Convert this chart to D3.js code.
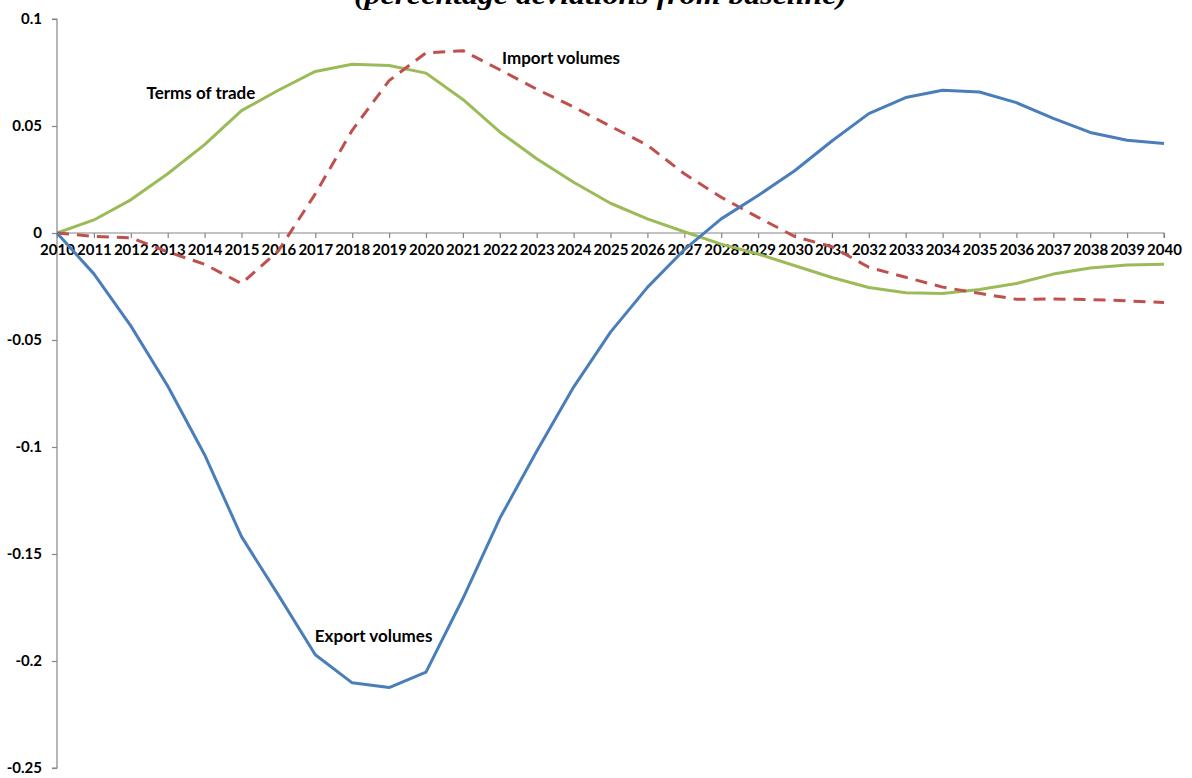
<!DOCTYPE html>
<html>
<head>
<meta charset="utf-8">
<script src="https://cdn.jsdelivr.net/npm/d3@7"></script>
<style>
  html, body { margin: 0; padding: 0; background: #ffffff; }
  svg { display: block; }
</style>
</head>
<body>
<svg id="chart" width="1192" height="778"></svg>
<script>
const years = d3.range(2010, 2041);
const yearLabels = years.map(String);

const exportVolumes = [0, -0.0191, -0.0434, -0.0715, -0.1036, -0.1419, -0.1692, -0.1971, -0.2102, -0.2124, -0.2052,
  -0.1708, -0.1333, -0.1020, -0.0720, -0.0463, -0.0254, -0.0078, 0.0066, 0.0175, 0.0292,
  0.0430, 0.0558, 0.0633, 0.0667, 0.0659, 0.0609, 0.0536, 0.0470, 0.0433, 0.0418];

const importVolumes = [0, -0.0016, -0.0022, -0.0088, -0.0146, -0.0236, -0.0083, 0.0183, 0.0480, 0.0712, 0.0842,
  0.0852, 0.0763, 0.0672, 0.0589, 0.0499, 0.0410, 0.0277, 0.0167, 0.0073, -0.0017,
  -0.0064, -0.0160, -0.0207, -0.0253, -0.0282, -0.0310, -0.0308, -0.0311, -0.0317, -0.0325];

const termsOfTrade = [0, 0.0061, 0.0155, 0.0277, 0.0413, 0.0572, 0.0667, 0.0755, 0.0789, 0.0783, 0.0747,
  0.0624, 0.0472, 0.0347, 0.0237, 0.0139, 0.0066, 0.0006, -0.0052, -0.0098, -0.0153,
  -0.0208, -0.0255, -0.0279, -0.0283, -0.0264, -0.0236, -0.0192, -0.0164, -0.0149, -0.0146];

const yTicks = [0.1, 0.05, 0, -0.05, -0.1, -0.15, -0.2, -0.25];
const yTickLabels = ["0.1", "0.05", "0", "-0.05", "-0.1", "-0.15", "-0.2", "-0.25"];

const titleText = "(percentage deviations from baseline)";
const seriesLabels = [
  { name: "Terms of trade", year: 2013.9, value: 0.0656 },
  { name: "Import volumes", year: 2023.66, value: 0.0819 },
  { name: "Export volumes", year: 2018.58, value: -0.1882 }
];

const svg = d3.select("#chart");
const axisColor = "#868686";
const fontFam = "Lato, 'Open Sans', sans-serif";

const x = d3.scaleLinear().domain([2010, 2040]).range([57, 1164]);
const y = d3.scaleLinear().domain([-0.25, 0.1]).range([768, 19]);

// Title (cut at the top, as in the original)
svg.append("text")
  .attr("x", 600.5).attr("y", 4)
  .attr("text-anchor", "middle")
  .attr("font-family", "'Liberation Serif', 'DejaVu Serif', serif")
  .attr("font-weight", "bold").attr("font-style", "italic")
  .attr("font-size", 27)
  .attr("textLength", 493).attr("lengthAdjust", "spacingAndGlyphs")
  .attr("fill", "#000")
  .text(titleText);

// Y axis
const yAxis = d3.axisLeft(y)
  .tickValues(yTicks)
  .tickFormat((d, i) => yTickLabels[i])
  .tickSize(5).tickPadding(10);
const gy = svg.append("g").attr("transform", "translate(57,0)").call(yAxis);
gy.select(".domain").attr("stroke", axisColor).attr("stroke-width", 1.2).attr("d", `M-5,${y(0.1)}H0V${y(-0.25)}H-5`);
gy.selectAll(".tick line").attr("stroke", axisColor).attr("stroke-width", 1.2);
gy.selectAll(".tick text")
  .attr("font-family", fontFam).attr("font-weight", "bold")
  .attr("font-size", 15).attr("fill", "#000");

// X axis at zero
const xAxis = d3.axisBottom(x)
  .tickValues(years)
  .tickFormat((d, i) => yearLabels[i])
  .tickSize(5).tickPadding(6);
const gx = svg.append("g").attr("transform", `translate(0,${y(0)})`).call(xAxis);
gx.select(".domain").attr("stroke", axisColor).attr("stroke-width", 1.2).attr("d", `M${x(2010)},0H${x(2040)}V5`);
gx.selectAll(".tick line").attr("stroke", axisColor).attr("stroke-width", 1.2);
gx.selectAll(".tick text")
  .attr("font-family", fontFam).attr("font-weight", "bold")
  .attr("font-size", 15).attr("fill", "#000");

const line = d3.line().x((d, i) => x(years[i])).y(d => y(d));

svg.append("path").datum(termsOfTrade)
  .attr("d", line).attr("fill", "none")
  .attr("stroke", "#9BBB59").attr("stroke-width", 3).attr("stroke-linejoin", "round");

svg.append("path").datum(importVolumes)
  .attr("d", line).attr("fill", "none")
  .attr("stroke", "#C0504D").attr("stroke-width", 3)
  .attr("stroke-dasharray", "12,8").attr("stroke-linejoin", "round");

svg.append("path").datum(exportVolumes)
  .attr("d", line).attr("fill", "none")
  .attr("stroke", "#4A7EBB").attr("stroke-width", 3).attr("stroke-linejoin", "round");

// Series labels
svg.selectAll("text.series-label").data(seriesLabels).enter()
  .append("text").attr("class", "series-label")
  .attr("x", d => x(d.year)).attr("y", d => y(d.value))
  .attr("text-anchor", "middle").attr("dominant-baseline", "central")
  .attr("font-family", fontFam).attr("font-weight", "bold")
  .attr("font-size", 17).attr("fill", "#000")
  .text(d => d.name);
</script>
</body>
</html>
